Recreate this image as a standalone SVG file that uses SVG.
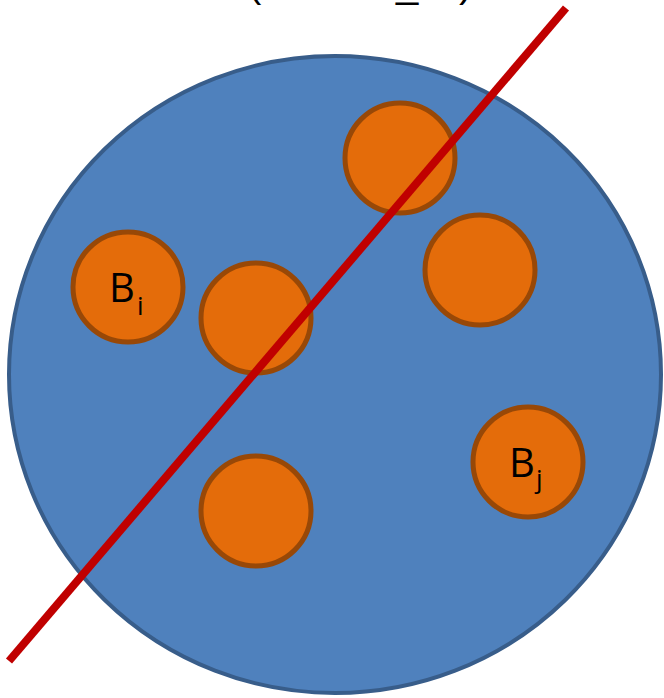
<svg xmlns="http://www.w3.org/2000/svg" width="664" height="698" viewBox="0 0 664 698">
<style>
.ball{fill:#E46C0A;stroke:#984807;stroke-width:5}
.lbl{font-family:"Open Sans","Liberation Sans",sans-serif;font-size:40px;fill:#000}
.sub{font-family:"Open Sans","Liberation Sans",sans-serif;font-size:26px;fill:#000}
.top{font-family:"Liberation Sans",sans-serif;font-size:40px;fill:#000}
</style>
<rect width="664" height="698" fill="#fff"/>
<text class="top" y="-3"><tspan x="248">(</tspan><tspan x="396">_</tspan><tspan x="459">)</tspan></text>
<g id="region">
<ellipse cx="335" cy="374.5" rx="326" ry="318.5" fill="#4F81BD" stroke="#385D8A" stroke-width="4"/>
</g>
<g id="Bi"><circle class="ball" cx="128" cy="287" r="55"/><text class="lbl" x="109" y="302">B</text><text class="sub" x="137" y="315">i</text></g>
<g id="b2"><circle class="ball" cx="400" cy="158" r="55"/></g>
<g id="b3"><circle class="ball" cx="480" cy="270" r="55"/></g>
<g id="b4"><circle class="ball" cx="256" cy="318" r="55"/></g>
<g id="b5"><circle class="ball" cx="256" cy="511" r="55"/></g>
<g id="Bj"><circle class="ball" cx="528" cy="462" r="55"/><text class="lbl" x="509" y="477">B</text><text class="sub" x="536" y="488">j</text></g>
<g id="connectors">
<line x1="9" y1="661" x2="566" y2="8" stroke="#C00000" stroke-width="8"/>
</g>
</svg>
